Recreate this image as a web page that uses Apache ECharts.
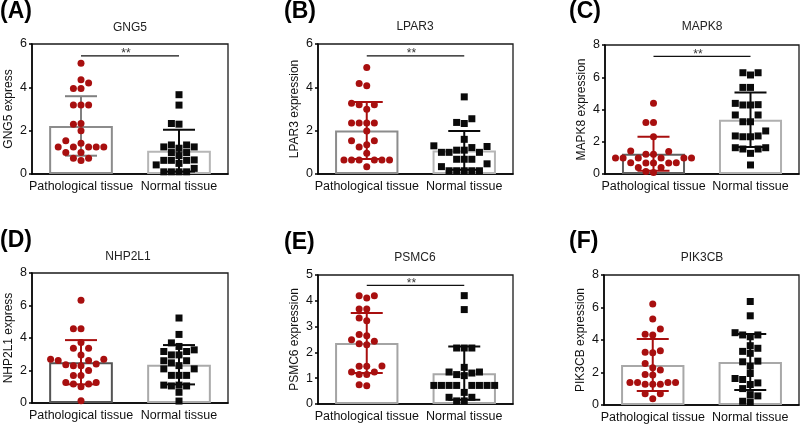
<!DOCTYPE html>
<html><head><meta charset="utf-8">
<script src="https://cdn.jsdelivr.net/npm/echarts@6/dist/echarts.min.js"></script>
<style>html,body{margin:0;padding:0;background:#fff}#c{width:800px;height:424px}</style>
</head><body><div id="c"></div>
<script>
// ---------- data ----------
const categories = ['Pathological tissue', 'Normal tissue'];
const panelLabels = ['(A)', '(B)', '(C)', '(D)', '(E)', '(F)'];
const geneTitles = ['GNG5', 'LPAR3', 'MAPK8', 'NHP2L1', 'PSMC6', 'PIK3CB'];
const yAxisNames = ['GNG5 express', 'LPAR3 expression', 'MAPK8 expression', 'NHP2L1 express', 'PSMC6 expression', 'PIK3CB expression'];
const yMaxima = [6, 6, 8, 8, 5, 8];
const yIntervals = [2, 2, 2, 2, 1, 2];
const sigLineValues = [5.45, 5.45, 7.3, null, 4.6, null];
const sigMarks = ['**', '**', '**', '', '**', ''];

const gng5Pathological = [5.11, 4.35, 4.2, 3.95, 3.95, 3.18, 3.18, 3.18, 2.33, 2.3, 2.0, 1.54, 1.42, 1.25, 1.25, 1.25, 1.25, 1.25, 0.99, 0.99, 0.73, 0.73, 0.62];
const gng5Normal = [3.66, 3.18, 2.33, 2.3, 1.34, 1.34, 1.25, 1.25, 1.19, 0.99, 0.99, 0.85, 0.65, 0.63, 0.63, 0.63, 0.49, 0.42, 0.26, 0.1, 0.1, 0.1, 0.1];
const lpar3Pathological = [4.92, 4.18, 4.07, 3.27, 3.2, 3.2, 2.99, 2.35, 2.35, 2.35, 2.35, 1.99, 1.54, 1.54, 1.35, 1.25, 0.96, 0.65, 0.65, 0.65, 0.65, 0.65, 0.65, 0.34];
const lpar3Normal = [3.56, 2.55, 2.38, 2.33, 1.6, 1.3, 1.27, 1.22, 1.1, 1.1, 1.0, 1.0, 1.0, 0.68, 0.68, 0.68, 0.47, 0.34, 0.15, 0.15, 0.15, 0.15, 0.15];
const mapk8Pathological = [4.38, 3.2, 3.2, 2.31, 1.42, 1.4, 1.22, 1.22, 1.0, 1.0, 1.0, 1.0, 1.0, 1.0, 0.7, 0.68, 0.68, 0.68, 0.7, 0.4, 0.4, 0.15, 0.1];
const mapk8Normal = [6.28, 6.14, 6.28, 5.37, 5.37, 4.38, 4.3, 4.28, 4.28, 3.66, 3.66, 3.24, 3.24, 2.67, 2.36, 2.36, 2.31, 2.31, 1.63, 1.63, 1.55, 1.55, 1.28, 0.56];
const nhp2l1Pathological = [6.32, 4.57, 4.57, 3.72, 3.37, 3.37, 2.96, 2.7, 2.7, 2.61, 2.61, 2.4, 2.35, 2.3, 2.3, 2.0, 1.69, 1.69, 1.26, 1.26, 1.17, 1.17, 1.0, 0.14];
const nhp2l1Normal = [5.23, 4.22, 3.7, 3.48, 3.27, 3.17, 3.17, 2.96, 2.96, 2.6, 2.6, 2.47, 2.3, 2.1, 2.1, 1.7, 1.7, 1.7, 1.1, 1.1, 1.05, 1.05, 0.66, 0.12];
const psmc6Pathological = [4.2, 4.2, 4.11, 3.68, 3.68, 3.33, 3.23, 2.69, 2.65, 2.49, 2.43, 2.34, 2.3, 1.47, 1.46, 1.46, 1.24, 1.24, 1.14, 1.14, 0.75, 0.71];
const psmc6Normal = [4.2, 3.66, 2.17, 2.17, 2.17, 1.42, 1.24, 1.24, 1.2, 1.14, 1.1, 0.72, 0.72, 0.72, 0.72, 0.72, 0.72, 0.72, 0.72, 0.45, 0.26, 0.26, 0.12, 0.12];
const pik3cbPathological = [6.21, 5.3, 4.68, 4.35, 4.31, 3.34, 3.24, 3.22, 2.56, 2.29, 2.15, 1.88, 1.84, 1.39, 1.39, 1.39, 1.39, 1.28, 1.28, 1.28, 0.7, 0.7, 0.39];
const pik3cbNormal = [6.37, 5.49, 4.45, 4.31, 4.31, 4.2, 3.65, 3.49, 3.3, 3.18, 2.7, 2.66, 2.39, 1.94, 1.63, 1.57, 1.36, 1.26, 1.01, 0.64, 0.56, 0.23, 0.19];

const pathologicalSets = [gng5Pathological, lpar3Pathological, mapk8Pathological, nhp2l1Pathological, psmc6Pathological, pik3cbPathological];
const normalSets = [gng5Normal, lpar3Normal, mapk8Normal, nhp2l1Normal, psmc6Normal, pik3cbNormal];

// ---------- layout & style ----------
const grids = [
  {left: 32, top: 44, width: 196, height: 130},
  {left: 318, top: 44, width: 195, height: 130},
  {left: 605, top: 45, width: 194, height: 129},
  {left: 32, top: 273, width: 196, height: 130},
  {left: 318, top: 275, width: 195, height: 129},
  {left: 604, top: 275, width: 195, height: 130}
];
const labelPos = [[0, 12], [284, 12], [569, 12], [0, 241], [284, 243], [569, 242]];
const titlePos = [[130, 27.5], [415, 26.5], [702, 26.5], [128, 256.5], [415, 257.5], [702, 257.5]];
const pathBarBorder = ['#8c8c8c', '#8c8c8c', '#606060', '#545454', '#a4a4a4', '#a8a8a8'];
const normBarBorder = ['#b6b6b6', '#b6b6b6', '#b0b0b0', '#aaaaaa', '#a8a8a8', '#a8a8a8'];
const pathErrColor = ['#808080', '#a80f0f', '#a80f0f', '#a80f0f', '#a80f0f', '#a80f0f'];
const RED = '#a80f0f', BLACK = '#0a0a0a';
const FONT = '"Liberation Sans", Arial, Helvetica, sans-serif';

function mean(a) { return a.reduce((s, v) => s + v, 0) / a.length; }
function sd(a) { const m = mean(a); return Math.sqrt(a.reduce((s, v) => s + (v - m) * (v - m), 0) / (a.length - 1)); }

// Prism-like column scatter: place each point at the nearest free column slot
function swarm(values, center, ppuY, bandPx) {
  const step = 7.6, minD = 7.0;
  const sorted = values.slice().sort((a, b) => a - b);
  const placed = [], out = [];
  for (const v of sorted) {
    const py = v * ppuY;
    let px = 0;
    for (let k = 0; k < 80; k++) {
      const s = k === 0 ? 0 : (k % 2 ? -Math.ceil(k / 2) : Math.ceil(k / 2));
      const cand = s * step;
      if (placed.every(p => Math.hypot(p.x - cand, p.y - py) >= minD)) { px = cand; break; }
    }
    placed.push({x: px, y: py});
    out.push([center + px / bandPx, v]);
  }
  return out;
}

const option = {animation: false, backgroundColor: '#fff', title: [], grid: [], xAxis: [], yAxis: [], series: []};

for (let i = 0; i < 6; i++) {
  const g = grids[i];
  option.grid.push({left: g.left, top: g.top, width: g.width, height: g.height, show: true, borderColor: '#1a1a1a', borderWidth: 1.3, backgroundColor: 'transparent'});
  option.title.push({text: panelLabels[i], left: labelPos[i][0], top: labelPos[i][1], padding: 0, textAlign: 'left', textVerticalAlign: 'middle',
    textStyle: {fontFamily: FONT, fontSize: 23, fontWeight: 'bold', color: '#000'}});
  option.title.push({text: geneTitles[i], left: titlePos[i][0], top: titlePos[i][1], padding: 0, textAlign: 'center', textVerticalAlign: 'middle',
    textStyle: {fontFamily: FONT, fontSize: 12, fontWeight: 'normal', color: '#222'}});

  option.xAxis.push({type: 'category', gridIndex: i, data: categories, boundaryGap: true,
    axisLine: {onZero: false, lineStyle: {color: '#000', width: 1.5}},
    axisTick: {alignWithLabel: true, length: 4, lineStyle: {color: '#000', width: 1.5}},
    axisLabel: {fontFamily: FONT, fontSize: 12.5, color: '#111', margin: 6, interval: 0},
    splitLine: {show: false}});
  option.xAxis.push({type: 'value', gridIndex: i, min: -0.5, max: 1.5, show: false,
    axisLine: {show: false, onZero: false}, splitLine: {show: false}});
  option.yAxis.push({type: 'value', gridIndex: i, min: 0, max: yMaxima[i], interval: yIntervals[i], position: 'left',
    name: yAxisNames[i], nameLocation: 'middle', nameGap: 17, nameRotate: 90,
    nameTextStyle: {fontFamily: FONT, fontSize: 12, color: '#111'},
    axisLine: {show: true, onZero: false, lineStyle: {color: '#000', width: 1.5}},
    axisTick: {show: true, length: 3, lineStyle: {color: '#000', width: 1.5}},
    axisLabel: {fontFamily: FONT, fontSize: 12.5, color: '#111', margin: 5},
    splitLine: {show: false}});

  const P = pathologicalSets[i], N = normalSets[i];
  const mP = mean(P), mN = mean(N), sP = sd(P), sN = sd(N);
  const ppuY = g.height / yMaxima[i], bandPx = g.width / 2;

  option.series.push({type: 'bar', xAxisIndex: 2 * i, yAxisIndex: i, barWidth: '65%', z: 2,
    data: [
      {value: mP, itemStyle: {color: '#fff', borderColor: pathBarBorder[i], borderWidth: 2}},
      {value: mN, itemStyle: {color: '#fff', borderColor: normBarBorder[i], borderWidth: 2}}
    ]});

  option.series.push({type: 'custom', xAxisIndex: 2 * i + 1, yAxisIndex: i, z: 3, silent: true,
    data: [
      {value: [0, mP, sP], itemStyle: {color: pathErrColor[i]}},
      {value: [1, mN, sN], itemStyle: {color: BLACK}}
    ],
    renderItem: (params, api) => {
      const x = api.value(0), m = api.value(1), s = api.value(2);
      const top = api.coord([x, m + s]), bot = api.coord([x, m - s]);
      const half = 16;
      const style = {stroke: api.visual('color'), lineWidth: 2, fill: null};
      return {type: 'group', children: [
        {type: 'line', shape: {x1: top[0], y1: top[1], x2: bot[0], y2: bot[1]}, style},
        {type: 'line', shape: {x1: top[0] - half, y1: top[1], x2: top[0] + half, y2: top[1]}, style},
        {type: 'line', shape: {x1: bot[0] - half, y1: bot[1], x2: bot[0] + half, y2: bot[1]}, style}
      ]};
    }});

  option.series.push({type: 'scatter', xAxisIndex: 2 * i + 1, yAxisIndex: i, z: 4, symbol: 'circle', symbolSize: 7,
    itemStyle: {color: RED, opacity: 1}, data: swarm(P, 0, ppuY, bandPx)});
  option.series.push({type: 'scatter', xAxisIndex: 2 * i + 1, yAxisIndex: i, z: 4, symbol: 'rect', symbolSize: 7,
    itemStyle: {color: BLACK, opacity: 1}, data: swarm(N, 1, ppuY, bandPx)});

  if (sigLineValues[i] !== null) {
    option.series.push({type: 'custom', xAxisIndex: 2 * i + 1, yAxisIndex: i, z: 5, silent: true,
      data: [[0, 1, sigLineValues[i]]],
      renderItem: (params, api) => {
        const a = api.coord([api.value(0), api.value(2)]), b = api.coord([api.value(1), api.value(2)]);
        return {type: 'group', children: [
          {type: 'line', shape: {x1: a[0], y1: a[1], x2: b[0], y2: b[1]}, style: {stroke: '#111', lineWidth: 1.3}},
          {type: 'text', x: (a[0] + b[0]) / 2 - 4, y: a[1] + 4, style: {text: sigMarks[i], align: 'center', verticalAlign: 'bottom', fontSize: 12, fontFamily: FONT, fill: '#333'}}
        ]};
      }});
  }
}

const chart = echarts.init(document.getElementById('c'), null, {renderer: 'canvas'});
chart.setOption(option);
</script>
</body></html>
